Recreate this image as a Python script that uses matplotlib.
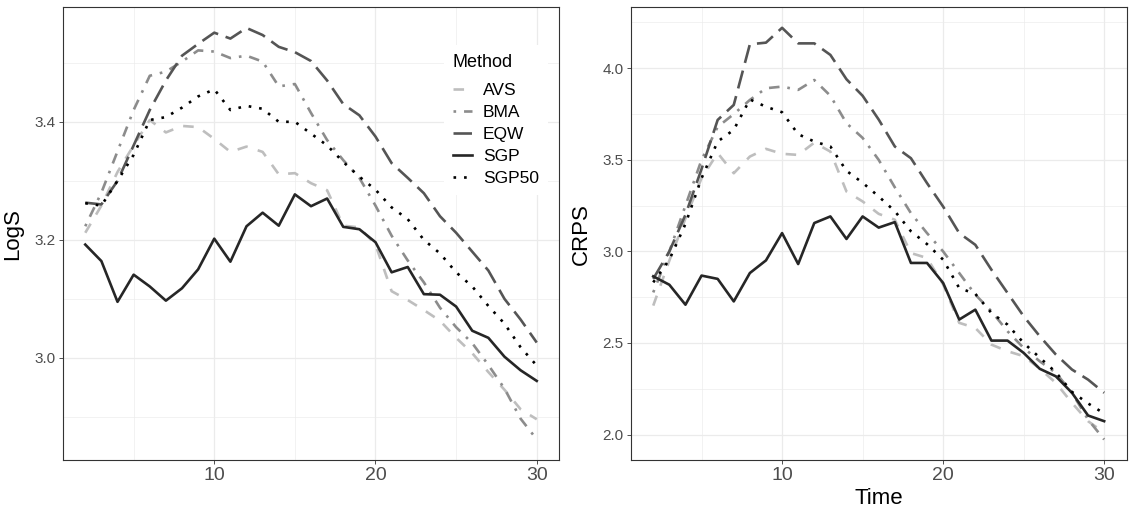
import numpy as np
import matplotlib
matplotlib.use('Agg')
import matplotlib.pyplot as plt
from matplotlib.ticker import MultipleLocator

plt.rcParams['font.family'] = ['Liberation Sans', 'DejaVu Sans']

# time steps
time = np.arange(2, 31)

# LogS per method
logs_avs = [3.212, 3.258, 3.315, 3.360, 3.403, 3.382, 3.393, 3.391, 3.371, 3.349,
            3.358, 3.349, 3.311, 3.313, 3.296, 3.284, 3.224, 3.221, 3.192, 3.113,
            3.098, 3.081, 3.063, 3.034, 3.008, 2.976, 2.946, 2.913, 2.896]
logs_bma = [3.223, 3.280, 3.350, 3.420, 3.478, 3.485, 3.502, 3.521, 3.519, 3.508,
            3.512, 3.502, 3.460, 3.464, 3.415, 3.369, 3.335, 3.305, 3.258, 3.207,
            3.165, 3.128, 3.085, 3.052, 3.025, 2.988, 2.948, 2.897, 2.862]
logs_eqw = [3.263, 3.260, 3.300, 3.360, 3.420, 3.470, 3.512, 3.532, 3.551, 3.541,
            3.559, 3.547, 3.527, 3.518, 3.503, 3.470, 3.430, 3.411, 3.375, 3.330,
            3.305, 3.279, 3.240, 3.212, 3.180, 3.148, 3.100, 3.065, 3.026]
logs_sgp = [3.192, 3.164, 3.095, 3.141, 3.121, 3.097, 3.118, 3.150, 3.202, 3.163,
            3.223, 3.246, 3.224, 3.277, 3.257, 3.270, 3.222, 3.218, 3.196, 3.145,
            3.154, 3.108, 3.107, 3.087, 3.046, 3.034, 3.002, 2.979, 2.961]
logs_sgp50 = [3.262, 3.258, 3.300, 3.344, 3.403, 3.408, 3.424, 3.443, 3.455, 3.420,
              3.427, 3.422, 3.400, 3.400, 3.380, 3.360, 3.332, 3.307, 3.285, 3.255,
              3.235, 3.200, 3.177, 3.145, 3.121, 3.088, 3.058, 3.018, 2.987]

# CRPS per method
crps_avs = [2.704, 2.950, 3.180, 3.400, 3.537, 3.427, 3.518, 3.560, 3.533, 3.527,
            3.594, 3.545, 3.327, 3.273, 3.205, 3.173, 2.991, 2.964, 2.820, 2.610,
            2.582, 2.491, 2.455, 2.428, 2.360, 2.282, 2.173, 2.073, 2.010]
crps_bma = [2.776, 3.000, 3.250, 3.500, 3.680, 3.750, 3.827, 3.891, 3.900, 3.882,
            3.936, 3.850, 3.700, 3.620, 3.500, 3.350, 3.209, 3.100, 3.000, 2.882,
            2.764, 2.673, 2.564, 2.473, 2.400, 2.337, 2.228, 2.082, 1.973]
crps_eqw = [2.850, 3.000, 3.200, 3.450, 3.718, 3.800, 4.131, 4.140, 4.221, 4.136,
            4.136, 4.073, 3.940, 3.850, 3.720, 3.573, 3.509, 3.373, 3.245, 3.100,
            3.036, 2.900, 2.773, 2.646, 2.537, 2.437, 2.355, 2.300, 2.228]
crps_sgp = [2.864, 2.818, 2.709, 2.868, 2.850, 2.727, 2.882, 2.951, 3.100, 2.931,
            3.155, 3.191, 3.068, 3.191, 3.130, 3.160, 2.937, 2.937, 2.828, 2.628,
            2.682, 2.513, 2.513, 2.446, 2.359, 2.318, 2.228, 2.104, 2.073]
crps_sgp50 = [2.831, 2.955, 3.150, 3.400, 3.600, 3.664, 3.830, 3.790, 3.760, 3.640,
              3.600, 3.573, 3.440, 3.375, 3.300, 3.220, 3.110, 3.040, 2.955, 2.800,
              2.768, 2.664, 2.600, 2.500, 2.420, 2.340, 2.233, 2.170, 2.115]

methods = ['AVS', 'BMA', 'EQW', 'SGP', 'SGP50']
couleurs = ['#BEBEBE', '#8C8C8C', '#555555', '#262626', '#000000']
tirets = [(4, 4), (1, 3, 4, 3), (7, 3), None, (1, 3)]


def style_axe(ax, ymaj, ymin):
    ax.set_xlim(0.6, 31.4)
    ax.xaxis.set_major_locator(MultipleLocator(10))
    ax.xaxis.set_minor_locator(MultipleLocator(5))
    ax.yaxis.set_major_locator(MultipleLocator(ymaj))
    ax.yaxis.set_minor_locator(MultipleLocator(ymin))
    ax.grid(True, which='major', color='#EBEBEB', lw=0.9, zorder=0)
    ax.grid(True, which='minor', color='#EBEBEB', lw=0.45, zorder=0)
    ax.set_axisbelow(True)
    for s in ax.spines.values():
        s.set_color('#333333')
        s.set_linewidth(0.8)
    ax.tick_params(which='major', length=2.75, width=0.6, color='#333333', pad=2.2)
    ax.tick_params(which='minor', length=0)
    ax.tick_params(axis='x', labelsize=14, labelcolor='#4D4D4D')
    ax.tick_params(axis='y', labelsize=11, labelcolor='#4D4D4D')


fig = plt.figure(figsize=(11.35, 5.2), dpi=100)

ax1 = fig.add_axes([62.7/1135, 60/520, 496.6/1135, 452.7/520])
series1 = [logs_avs, logs_bma, logs_eqw, logs_sgp, logs_sgp50]
for nom, y, c, d in zip(methods, series1, couleurs, tirets):
    l, = ax1.plot(time, y, color=c, lw=1.9, label=nom, solid_joinstyle='round',
                  dash_capstyle='butt', zorder=3)
    if d is not None:
        l.set_dashes(d)
style_axe(ax1, 0.2, 0.1)
ax1.set_ylim(2.827, 3.594)
ax1.yaxis.set_major_formatter(matplotlib.ticker.FormatStrFormatter('%.1f'))
ax1.set_ylabel('LogS', fontsize=16)
ax1.yaxis.set_label_coords(-0.08, 0.5)
leg = ax1.legend(title='Method', loc='upper left', bbox_to_anchor=(0.75, 0.935),
                 fontsize=12.5, title_fontsize=13, frameon=True, facecolor='white',
                 edgecolor='none', framealpha=1, fancybox=False, handlelength=1.15,
                 handletextpad=0.6, labelspacing=0.4, borderpad=0.5, alignment='left')
# un peu plus d'espace sous le titre
leg._legend_box.sep = 8.5

ax2 = fig.add_axes([630.7/1135, 60/520, 496/1135, 452.7/520])
series2 = [crps_avs, crps_bma, crps_eqw, crps_sgp, crps_sgp50]
for nom, y, c, d in zip(methods, series2, couleurs, tirets):
    l, = ax2.plot(time, y, color=c, lw=1.9, label=nom, solid_joinstyle='round',
                  dash_capstyle='butt', zorder=3)
    if d is not None:
        l.set_dashes(d)
style_axe(ax2, 0.5, 0.25)
ax2.set_ylim(1.861, 4.333)
ax2.yaxis.set_major_formatter(matplotlib.ticker.FormatStrFormatter('%.1f'))
ax2.set_ylabel('CRPS', fontsize=16)
ax2.yaxis.set_label_coords(-0.079, 0.5)
ax2.set_xlabel('Time', fontsize=16)
ax2.xaxis.set_label_coords(0.5, -0.062)

plt.savefig('out.png', dpi=100)
